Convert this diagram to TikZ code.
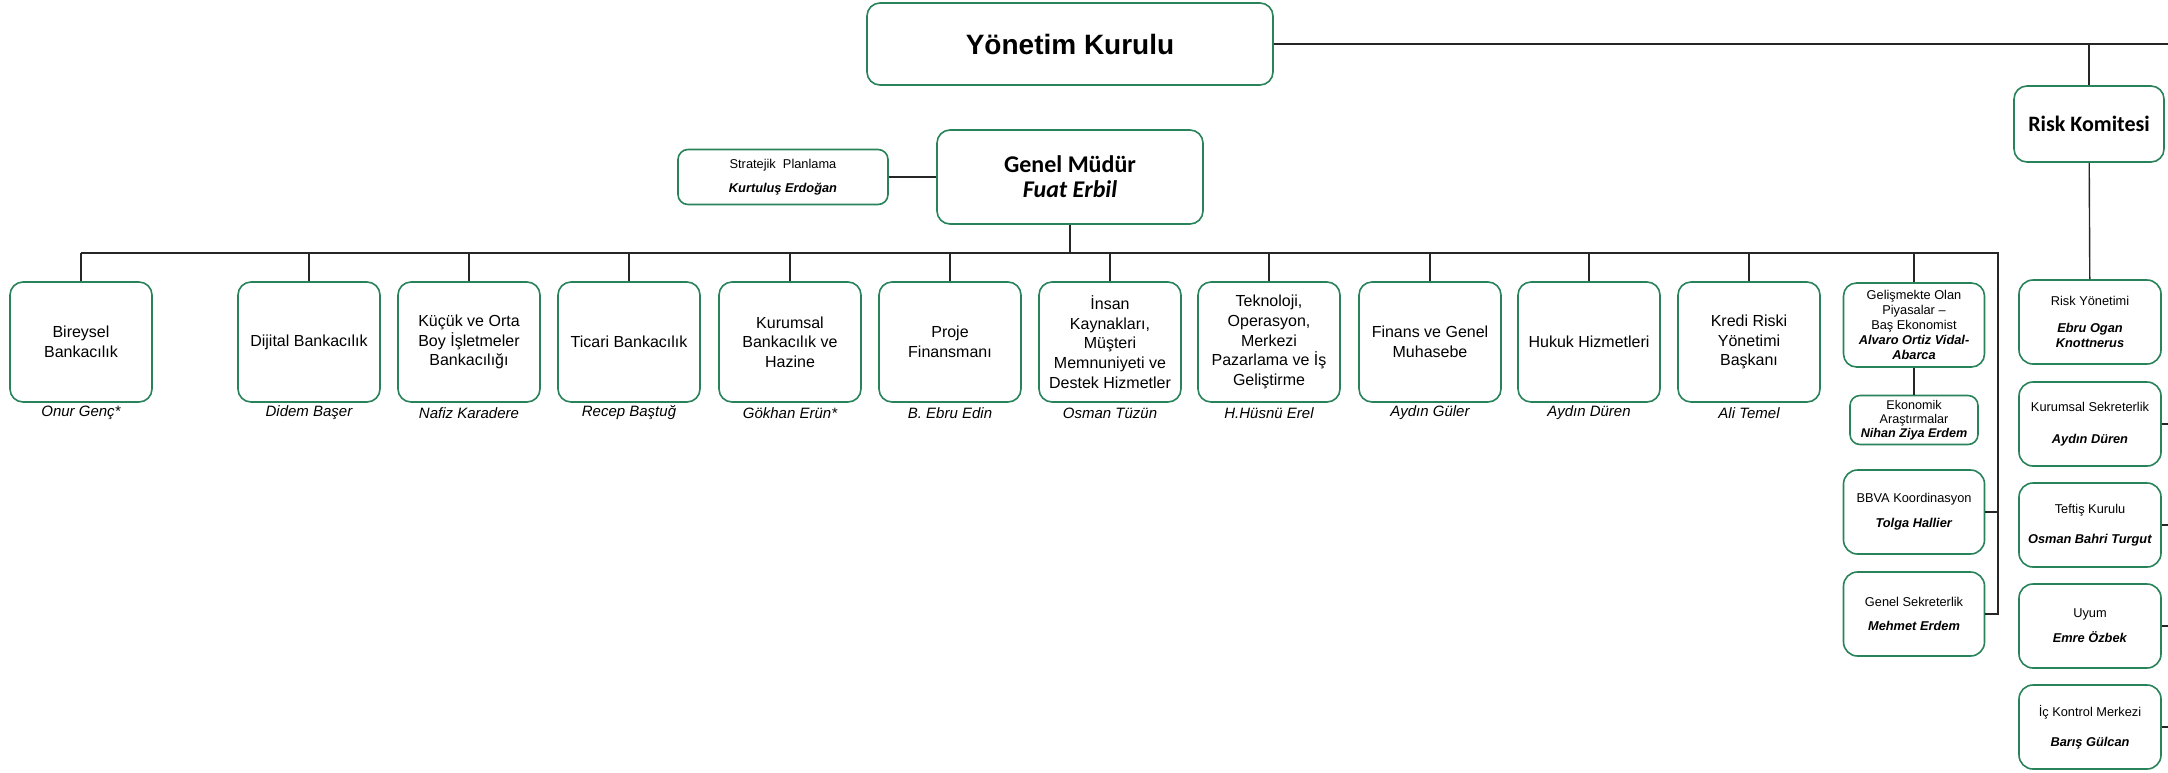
\documentclass[tikz,border=0pt]{standalone}
\usepackage{fontspec}
\setmainfont{Liberation Sans}
\newfontfamily\carlito{Carlito}
\definecolor{boxgreen}{RGB}{40,130,90}

\begin{document}
\begin{tikzpicture}[x=0.5pt,y=-0.5pt,
  orgbox/.style={draw=boxgreen,line width=0.8pt,rounded corners=6.5pt,align=center,inner sep=1pt},
  deptbox/.style={orgbox,minimum width=71pt,minimum height=60pt,font=\fontsize{8}{9.8}\selectfont},
  sidebox/.style={orgbox,rounded corners=7pt,minimum width=71pt,minimum height=42pt,font=\fontsize{6.4}{7.7}\selectfont},
  namelabel/.style={font=\fontsize{7.5}{9}\selectfont\itshape,inner sep=1pt},
  link/.style={line width=0.7pt,draw=black!85}]
  \useasboundingbox (0,0) rectangle (2168,772);
  \coordinate (edge) at (2168,44);
  \coordinate (busL) at (81,253);
  \coordinate (busR) at (1998,253);

  \node[orgbox,minimum width=203pt,minimum height=41pt,font=\bfseries\fontsize{14}{16}\selectfont] (yk) at (1070,44) {Yönetim Kurulu};
  \node[orgbox,minimum width=75pt,minimum height=38pt,font=\carlito\bfseries\fontsize{11}{13}\selectfont] (rk) at (2089,124) {Risk Komitesi};
  \node[orgbox,minimum width=133pt,minimum height=47pt,font=\carlito\bfseries\fontsize{12}{12.5}\selectfont] (gm) at (1070,177) {Genel Müdür\\\textit{Fuat Erbil}};
  \node[orgbox,rounded corners=5pt,minimum width=105pt,minimum height=27.5pt,font=\fontsize{6.4}{12}\selectfont] (sp) at (783,177) {Stratejik\ \ Planlama\\\textbf{\textit{Kurtuluş Erdoğan}}};

  \node[deptbox] (bireysel) at (81,342) {Bireysel\\Bankacılık};
  \node[deptbox] (dijital) at (309,342) {Dijital Bankacılık};
  \node[deptbox] (kobi) at (469,342) {Küçük ve Orta\\Boy İşletmeler\\Bankacılığı};
  \node[deptbox] (ticari) at (629,342) {Ticari Bankacılık};
  \node[deptbox] (kurumsal) at (790,342) {Kurumsal\\Bankacılık ve\\Hazine};
  \node[deptbox] (proje) at (950,342) {Proje\\Finansmanı};
  \node[deptbox] (ik) at (1110,342) {İnsan\\Kaynakları,\\Müşteri\\Memnuniyeti ve\\Destek Hizmetler};
  \node[deptbox] (teknoloji) at (1269,342) {Teknoloji,\\Operasyon,\\Merkezi\\Pazarlama ve İş\\Geliştirme};
  \node[deptbox] (finans) at (1430,342) {Finans ve Genel\\Muhasebe};
  \node[deptbox] (hukuk) at (1589,342) {Hukuk Hizmetleri};
  \node[deptbox] (kredi) at (1749,342) {Kredi Riski\\Yönetimi\\Başkanı};

  \node[namelabel] (bireysel-name) at (81,413) {Onur Genç*};
  \node[namelabel] (dijital-name) at (309,413) {Didem Başer};
  \node[namelabel] (kobi-name) at (469,413) {Nafiz Karadere};
  \node[namelabel] (ticari-name) at (629,413) {Recep Baştuğ};
  \node[namelabel] (kurumsal-name) at (790,413) {Gökhan Erün*};
  \node[namelabel] (proje-name) at (950,413) {B. Ebru Edin};
  \node[namelabel] (ik-name) at (1110,413) {Osman Tüzün};
  \node[namelabel] (teknoloji-name) at (1269,413) {H.Hüsnü Erel};
  \node[namelabel] (finans-name) at (1430,413) {Aydın Güler};
  \node[namelabel] (hukuk-name) at (1589,413) {Aydın Düren};
  \node[namelabel] (kredi-name) at (1749,413) {Ali Temel};

  \node[orgbox,minimum width=70.5pt,minimum height=42pt,font=\fontsize{6.4}{7.5}\selectfont] (gop) at (1914,325) {Gelişmekte Olan\\Piyasalar –\\Baş Ekonomist\\\textbf{\textit{Alvaro Ortiz Vidal-}}\\\textbf{\textit{Abarca}}};
  \node[orgbox,rounded corners=5pt,minimum width=64pt,minimum height=24.5pt,font=\fontsize{6.3}{6.9}\selectfont] (ekon) at (1914,420) {Ekonomik\\Araştırmalar\\\textbf{\textit{Nihan Ziya Erdem}}};
  \node[sidebox,minimum width=70.5pt] (bbva) at (1914,512) {BBVA Koordinasyon\\[4.8pt]\textbf{\textit{Tolga Hallier}}};
  \node[sidebox,minimum width=70.5pt] (gensek) at (1914,614) {Genel Sekreterlik\\[4.5pt]\textbf{\textit{Mehmet Erdem}}};

  \node[sidebox] (riskyon) at (2090,322) {Risk Yönetimi\\[5.5pt]\textbf{\textit{Ebru Ogan}}\\\textbf{\textit{Knottnerus}}};
  \node[sidebox] (kursek) at (2090,424) {Kurumsal Sekreterlik\\[8.3pt]\textbf{\textit{Aydın Düren}}};
  \node[sidebox] (teftis) at (2090,525) {Teftiş Kurulu\\[7.3pt]\textbf{\textit{Osman Bahri Turgut}}};
  \node[sidebox] (uyum) at (2090,626) {Uyum\\[4.8pt]\textbf{\textit{Emre Özbek}}};
  \node[sidebox] (ickontrol) at (2090,727) {İç Kontrol Merkezi\\[7.3pt]\textbf{\textit{Barış Gülcan}}};

  \draw[link] (yk) -- (edge);
  \draw[link] (rk.north |- edge) -- (rk);
  \draw[link] (rk) -- (riskyon);
  \draw[link] (gm) -- (sp);
  \draw[link] (gm) -- (gm |- busL);
  \draw[link] (busL) -- (busR) -- (gensek.east -| busR) -- (gensek.east);
  \draw[link] (bbva.east) -- (bbva.east -| busR);
  \draw[link] (bireysel) -- (bireysel |- busL);
  \draw[link] (dijital) -- (dijital |- busL);
  \draw[link] (kobi) -- (kobi |- busL);
  \draw[link] (ticari) -- (ticari |- busL);
  \draw[link] (kurumsal) -- (kurumsal |- busL);
  \draw[link] (proje) -- (proje |- busL);
  \draw[link] (ik) -- (ik |- busL);
  \draw[link] (teknoloji) -- (teknoloji |- busL);
  \draw[link] (finans) -- (finans |- busL);
  \draw[link] (hukuk) -- (hukuk |- busL);
  \draw[link] (kredi) -- (kredi |- busL);
  \draw[link] (gop) -- (gop |- busL);
  \draw[link] (gop) -- (ekon);
  \draw[link] (kursek.east) -- (kursek.east -| edge);
  \draw[link] (teftis.east) -- (teftis.east -| edge);
  \draw[link] (uyum.east) -- (uyum.east -| edge);
  \draw[link] (ickontrol.east) -- (ickontrol.east -| edge);
\end{tikzpicture}
\end{document}
